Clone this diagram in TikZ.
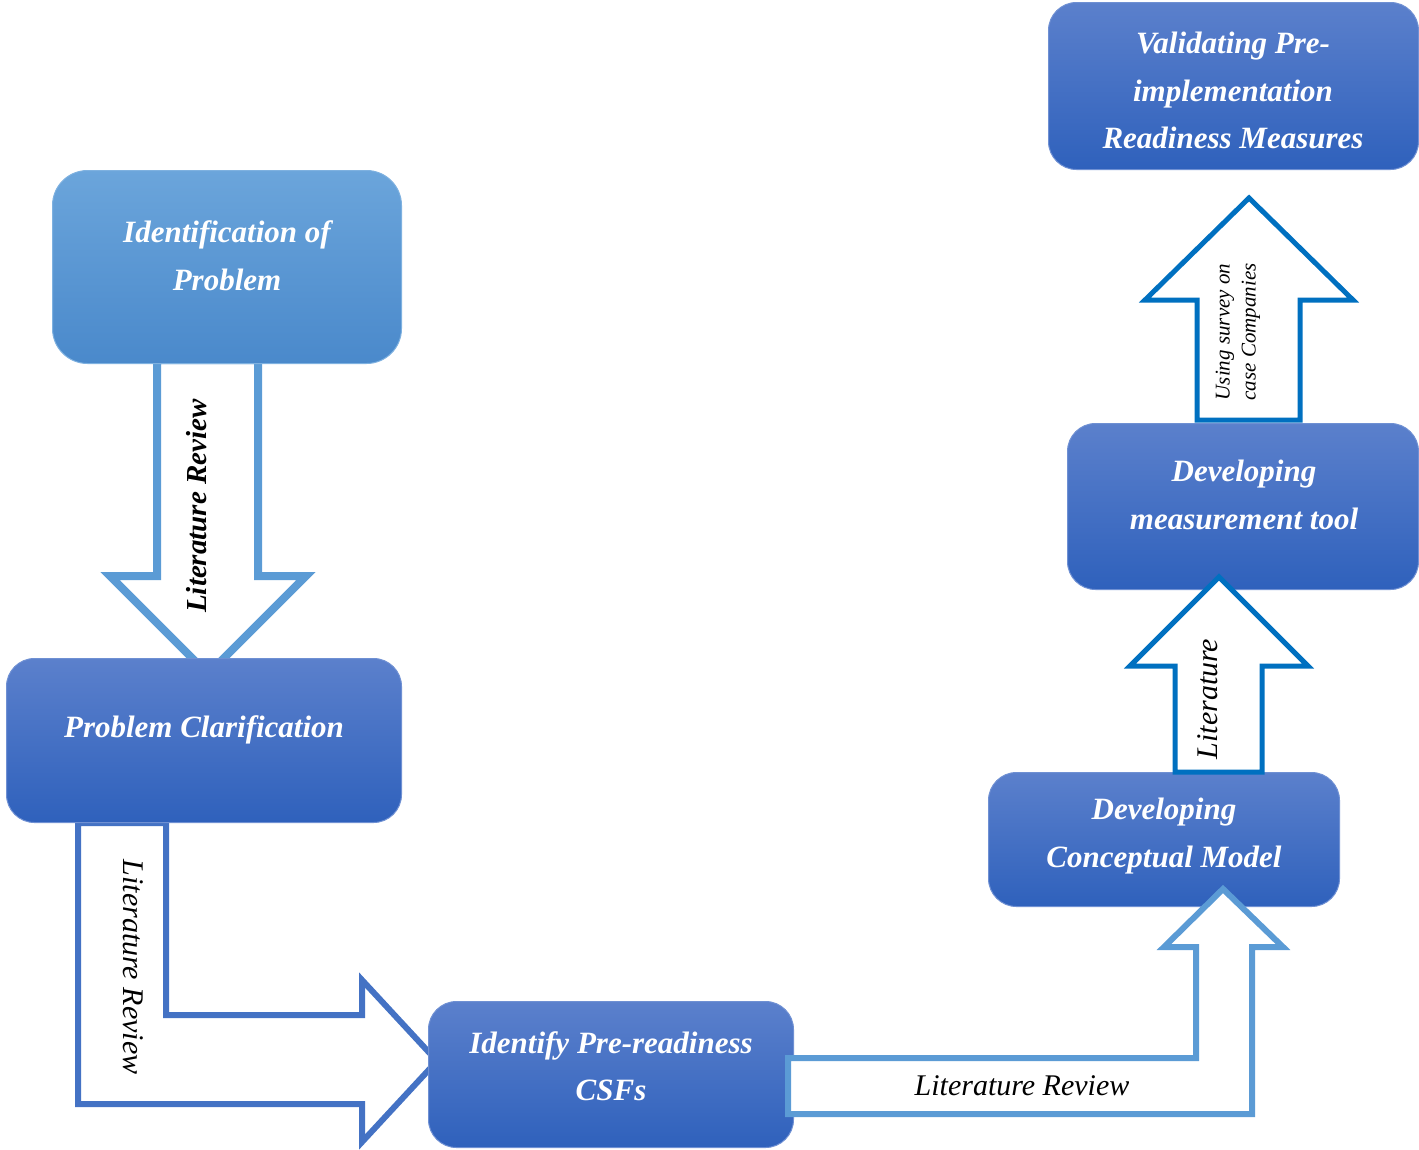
\documentclass[tikz,border=0pt]{standalone}
\usepackage{fontspec}
\setmainfont{Liberation Serif}
\definecolor{paletop}{HTML}{6BA5DB}
\definecolor{palebot}{HTML}{4A89CB}
\definecolor{paleedge}{HTML}{7EB1E0}
\definecolor{deeptop}{HTML}{5B80CC}
\definecolor{deepbot}{HTML}{2F61BC}
\definecolor{deepedge}{HTML}{6F90D3}
\definecolor{flowlight}{HTML}{5B9BD5}
\definecolor{flowmid}{HTML}{4472C4}
\definecolor{flowdark}{HTML}{0070C0}
\begin{document}
\begin{tikzpicture}[x=1pt,y=-1pt,
  stagebox/.style={rectangle, rounded corners=28pt, line width=1pt, inner sep=0pt,
    draw=deepedge, top color=deeptop, bottom color=deepbot},
  palebox/.style={stagebox, rounded corners=35pt, draw=paleedge, top color=paletop, bottom color=palebot},
  stagetext/.style={text=white, align=center, inner sep=0pt,
    font=\fontsize{31}{47.5}\selectfont\bfseries\itshape},
  blockarrow/.style={fill=white, line join=miter},
  flowlabel/.style={inner sep=0pt, align=center, font=\fontsize{30}{36}\selectfont\itshape}
]
\useasboundingbox (0,0) rectangle (1419,1149);

% arrows lying underneath the boxes
\draw[blockarrow, draw=flowlight, line width=8pt]
  (157,360) -- (157,576) -- (110,576) -- (208,674) -- (306,576) -- (258,576) -- (258,360) -- cycle;
\draw[blockarrow, draw=flowmid, line width=6pt]
  (78,823) -- (78,1104) -- (362,1104) -- (362,1142) -- (437,1061) -- (362,980) -- (362,1015) -- (166,1015) -- (166,823) -- cycle;

% process stages
\node[palebox, minimum width=349pt, minimum height=193pt] (idp) at (227,267) {};
\node[stagebox, minimum width=395pt, minimum height=164pt] (pcl) at (204,740.5) {};
\node[stagebox, minimum width=365pt, minimum height=146pt] (csf) at (611,1074.5) {};
\node[stagebox, minimum width=351pt, minimum height=134pt] (dcm) at (1164,839.5) {};
\node[stagebox, minimum width=351pt, minimum height=166pt] (dmt) at (1243,506.5) {};
\node[stagebox, minimum width=370pt, minimum height=167pt] (vpr) at (1233.5,86) {};

\node[stagetext] (idpt) at (227,256) {Identification of\\Problem};
\node[stagetext] (pclt) at (204,730) {Problem Clarification};
\node[stagetext] (csft) at (611,1066) {Identify Pre-readiness\\CSFs};
\node[stagetext] (dcmt) at (1164,836) {Developing\\Conceptual Model};
\node[stagetext] (dmtt) at (1244,495) {Developing\\measurement tool};
\node[stagetext] (vprt) at (1233,90.5) {Validating Pre-\\implementation\\Readiness Measures};

% arrows lying over the boxes
\draw[blockarrow, draw=flowlight, line width=6pt]
  (788,1058) -- (1196,1058) -- (1196,947) -- (1164,947) -- (1223,889) -- (1283,947) -- (1252,947) -- (1252,1114) -- (788,1114) -- cycle;
\draw[blockarrow, draw=flowdark, line width=5pt]
  (1175,772) -- (1175,666) -- (1130,666) -- (1219,577) -- (1308,666) -- (1262,666) -- (1262,772) -- cycle;
\draw[blockarrow, draw=flowdark, line width=5pt]
  (1197,420) -- (1197,300) -- (1145,300) -- (1249,198) -- (1353,300) -- (1300,300) -- (1300,420) -- cycle;

% arrow captions
\node[flowlabel, rotate=90, font=\fontsize{29}{34}\selectfont\bfseries\itshape] (lr1) at (197,506) {Literature Review};
\node[flowlabel, rotate=-90] (lr2) at (133,967) {Literature Review};
\node[flowlabel] (lr3) at (1022,1086) {Literature Review};
\node[flowlabel, rotate=90] (lr4) at (1208,699) {Literature};
\node[flowlabel, rotate=90, font=\fontsize{21}{26}\selectfont\itshape] (lr5) at (1238,332) {Using survey on\\case Companies};
\end{tikzpicture}
\end{document}
